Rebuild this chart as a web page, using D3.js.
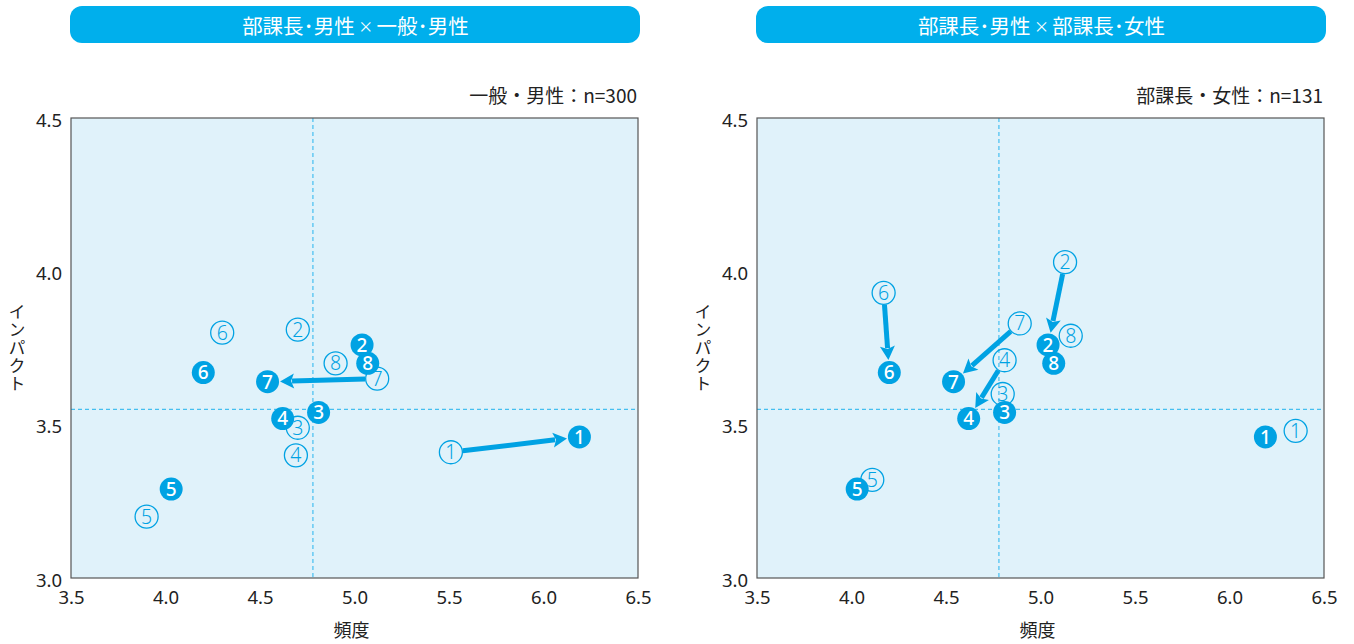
<!DOCTYPE html>
<html>
<head>
<meta charset="utf-8">
<script src="https://cdn.jsdelivr.net/npm/d3@7"></script>
<style>
  html, body { margin: 0; padding: 0; background: #fff; }
  svg { display: block; font-family: "Noto Sans CJK JP", "Noto Sans", sans-serif; }
</style>
</head>
<body>
<svg id="chart" width="1354" height="644"></svg>
<script>
// Item numbers 1–8
const items = [1, 2, 3, 4, 5, 6, 7, 8];

// 部課長・男性 (filled markers, shared by both panels)
const mgrMaleFreq   = [6.19, 5.04, 4.81, 4.62, 4.03, 4.20, 4.54, 5.07];
const mgrMaleImpact = [3.46, 3.76, 3.54, 3.52, 3.29, 3.67, 3.64, 3.70];

// 一般・男性 (open markers, left panel)
const genMaleFreq   = [5.51, 4.70, 4.70, 4.69, 3.90, 4.30, 5.12, 4.90];
const genMaleImpact = [3.41, 3.81, 3.49, 3.40, 3.20, 3.80, 3.65, 3.70];

// 部課長・女性 (open markers, right panel)
const mgrFemaleFreq   = [6.35, 5.13, 4.80, 4.81, 4.11, 4.17, 4.89, 5.16];
const mgrFemaleImpact = [3.48, 4.03, 3.60, 3.71, 3.32, 3.93, 3.83, 3.79];

// Items whose change is drawn with an arrow in each panel
const leftArrows  = [1, 7];
const rightArrows = [2, 4, 6, 7];

// Axis ticks and reference lines (averages)
const xTicks = [3.5, 4.0, 4.5, 5.0, 5.5, 6.0, 6.5];
const yTicks = [3.0, 3.5, 4.0, 4.5];
const refFreq = 4.78;
const refImpact = 3.55;

const panelTitles = [["部課長･男性", "一般･男性"], ["部課長･男性", "部課長･女性"]];
const sampleNotes = ["一般・男性：n=300", "部課長・女性：n=131"];

const BLUE = "#00a2e3";
const HEAD_BLUE = "#00afec";
const BG = "#e0f2fa";
const DASH = "#45bff0";

const svg = d3.select("#chart");

const panels = [
  { left: 71,  title: panelTitles[0], note: sampleNotes[0],
    openF: genMaleFreq, openI: genMaleImpact, arrows: leftArrows },
  { left: 757, title: panelTitles[1], note: sampleNotes[1],
    openF: mgrFemaleFreq, openI: mgrFemaleImpact, arrows: rightArrows }
];

const plotW = 567, plotTop = 118, plotBottom = 578;

panels.forEach(p => {
  const g = svg.append("g");
  const x = d3.scaleLinear().domain([3.5, 6.5]).range([p.left, p.left + plotW]);
  const y = d3.scaleLinear().domain([3.0, 4.5]).range([plotBottom, plotTop]);

  // Title banner
  g.append("rect")
    .attr("x", p.left - 1).attr("y", 6)
    .attr("width", plotW + 3).attr("height", 37)
    .attr("rx", 12).attr("ry", 12)
    .attr("fill", HEAD_BLUE);
  const t = g.append("text")
    .attr("x", p.left + plotW / 2 + 1).attr("y", 25)
    .attr("text-anchor", "middle").attr("dominant-baseline", "central")
    .attr("fill", "#fff").attr("font-size", 20.5);
  t.append("tspan").text(p.title[0]);
  t.append("tspan").attr("font-size", 15).text(" × ");
  t.append("tspan").text(p.title[1]);

  // Sample note
  g.append("text")
    .attr("x", p.left + plotW - 1).attr("y", 103)
    .attr("text-anchor", "end")
    .attr("fill", "#222").attr("font-size", 19)
    .text(p.note);

  // Plot area
  g.append("rect")
    .attr("x", x(3.5)).attr("y", y(4.5))
    .attr("width", x(6.5) - x(3.5)).attr("height", y(3.0) - y(4.5))
    .attr("fill", BG);

  // Average reference lines
  g.append("line")
    .attr("x1", x(refFreq)).attr("x2", x(refFreq))
    .attr("y1", y(4.5)).attr("y2", y(3.0))
    .attr("stroke", DASH).attr("stroke-width", 1.2).attr("stroke-dasharray", "4,3");
  g.append("line")
    .attr("x1", x(3.5)).attr("x2", x(6.5))
    .attr("y1", y(refImpact)).attr("y2", y(refImpact))
    .attr("stroke", DASH).attr("stroke-width", 1.2).attr("stroke-dasharray", "4,3");

  // Frame
  g.append("rect")
    .attr("x", x(3.5)).attr("y", y(4.5))
    .attr("width", x(6.5) - x(3.5)).attr("height", y(3.0) - y(4.5))
    .attr("fill", "none").attr("stroke", "#555").attr("stroke-width", 1.2);

  // Axes (labels only, no tick marks)
  const xAxis = g.append("g").attr("transform", `translate(0,${plotBottom})`)
    .call(d3.axisBottom(x).tickValues(xTicks).tickFormat(d3.format(".1f")).tickSize(0).tickPadding(13));
  xAxis.select(".domain").remove();
  xAxis.selectAll("text").attr("font-size", 18.5).attr("fill", "#222")
    .attr("font-family", "'Noto Sans', sans-serif");

  const yAxis = g.append("g").attr("transform", `translate(${p.left},0)`)
    .call(d3.axisLeft(y).tickValues(yTicks).tickFormat(d3.format(".1f")).tickSize(0).tickPadding(9));
  yAxis.select(".domain").remove();
  yAxis.selectAll("text").attr("font-size", 18.5).attr("fill", "#222").attr("dy", "0.45em")
    .attr("font-family", "'Noto Sans', sans-serif");

  // Axis titles
  g.append("text")
    .attr("x", p.left + plotW / 2 - 3).attr("y", 637)
    .attr("text-anchor", "middle").attr("fill", "#222").attr("font-size", 18)
    .text("頻度");
  g.append("text")
    .attr("x", p.left - 54).attr("y", 348)
    .attr("text-anchor", "middle")
    .style("writing-mode", "vertical-rl")
    .style("text-orientation", "upright")
    .attr("letter-spacing", 1)
    .attr("fill", "#222").attr("font-size", 17)
    .text("インパクト");

  // Arrows from open marker to filled marker
  p.arrows.forEach(n => {
    const i = n - 1;
    const x0 = x(p.openF[i]), y0 = y(p.openI[i]);
    const x1 = x(mgrMaleFreq[i]), y1 = y(mgrMaleImpact[i]);
    const dx = x1 - x0, dy = y1 - y0, len = Math.hypot(dx, dy);
    const ux = dx / len, uy = dy / len;
    const sx = x0 + ux * 12, sy = y0 + uy * 12;
    const tx = x1 - ux * 12.5, ty = y1 - uy * 12.5;
    const headL = 14, headW = 7.5;
    const bx = tx - ux * headL, by = ty - uy * headL;
    g.append("line")
      .attr("x1", sx).attr("y1", sy).attr("x2", bx + ux * 2).attr("y2", by + uy * 2)
      .attr("stroke", BLUE).attr("stroke-width", 5);
    g.append("path")
      .attr("d", d3.line()([
        [tx, ty],
        [bx - uy * headW, by + ux * headW],
        [bx + ux * 3, by + uy * 3],
        [bx + uy * headW, by - ux * headW]
      ]) + "Z")
      .attr("fill", BLUE);
  });

  // Open markers
  const open = g.append("g").selectAll("g").data(items).join("g")
    .attr("transform", (d, i) => `translate(${x(p.openF[i])},${y(p.openI[i])})`);
  open.append("circle").attr("r", 11.5)
    .attr("fill", "none").attr("stroke", BLUE).attr("stroke-width", 1.3);
  open.append("text")
    .attr("text-anchor", "middle").attr("dy", "0.36em")
    .attr("fill", BLUE).attr("font-size", 19.5).attr("font-weight", 300)
    .attr("font-family", "'Noto Sans', sans-serif")
    .text(d => d);

  // Filled markers
  const filled = g.append("g").selectAll("g").data(items).join("g")
    .attr("transform", (d, i) => `translate(${x(mgrMaleFreq[i])},${y(mgrMaleImpact[i])})`);
  filled.append("circle").attr("r", 11.5).attr("fill", BLUE);
  filled.append("text")
    .attr("text-anchor", "middle").attr("dy", "0.36em")
    .attr("fill", "#fff").attr("font-size", 19).attr("font-weight", 500)
    .attr("font-family", "'Noto Sans', sans-serif")
    .text(d => d);
});
</script>
</body>
</html>
